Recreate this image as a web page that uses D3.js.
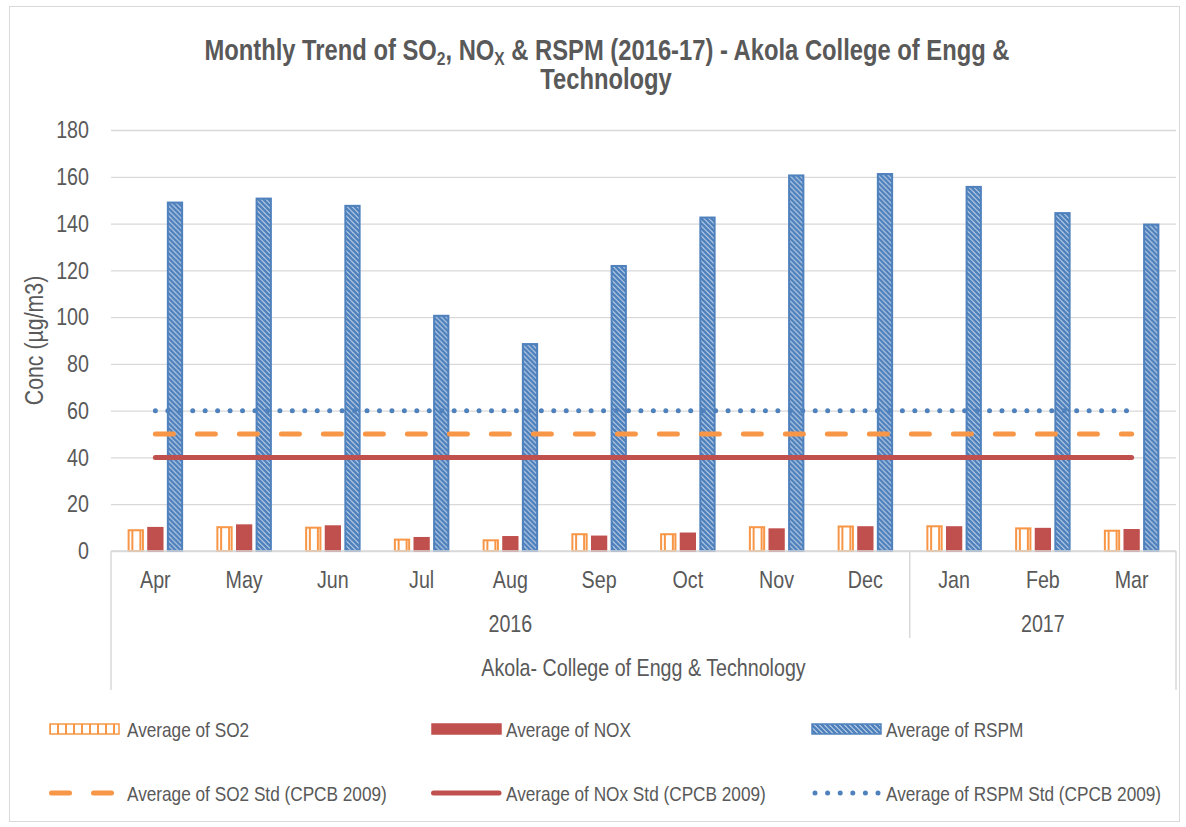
<!DOCTYPE html>
<html>
<head>
<meta charset="utf-8">
<script src="https://cdn.jsdelivr.net/npm/d3@7"></script>
<style>
  body { margin: 0; background: #fff; }
  text { font-family: "Liberation Sans Narrow", "Arial Narrow", "Liberation Sans", Arial, sans-serif; fill: #595959; }
</style>
</head>
<body>
<div id="chart"></div>
<script>
const width = 1186;
const height = 827;

// values
const months = ["Apr", "May", "Jun", "Jul", "Aug", "Sep", "Oct", "Nov", "Dec", "Jan", "Feb", "Mar"];
const yearLabels = ["2016", "2017"];
const yearMonths = [9, 3];
const siteLabel = "Akola- College of Engg & Technology";

const so2 = [9.3, 10.6, 10.4, 5.3, 5.0, 7.6, 7.6, 10.6, 10.9, 11.0, 10.1, 9.1];
const nox = [10.3, 11.4, 11.0, 6.0, 6.4, 6.6, 7.9, 9.7, 10.6, 10.6, 9.9, 9.4];
const rspm = [149.4, 151.1, 148.0, 101.0, 88.9, 122.3, 143.0, 161.0, 161.6, 156.1, 144.9, 140.0];

const so2Std = [50, 50, 50, 50, 50, 50, 50, 50, 50, 50, 50, 50];
const noxStd = [40, 40, 40, 40, 40, 40, 40, 40, 40, 40, 40, 40];
const rspmStd = [60, 60, 60, 60, 60, 60, 60, 60, 60, 60, 60, 60];

const yTicks = [0, 20, 40, 60, 80, 100, 120, 140, 160, 180];

const orange = "#F79646";
const red = "#C0504D";
const blue = "#4F81BD";
const grid = "#D9D9D9";

const svg = d3.select("#chart").append("svg")
    .attr("width", width)
    .attr("height", height);

// patterns for the hatched bars
const defs = svg.append("defs");
const vert = defs.append("pattern")
    .attr("id", "vert")
    .attr("patternUnits", "userSpaceOnUse")
    .attr("width", 8).attr("height", 8);
vert.append("rect").attr("width", 8).attr("height", 8).attr("fill", "#fff");
vert.append("rect").attr("x", 0).attr("width", 2).attr("height", 8).attr("fill", orange);

const diag = defs.append("pattern")
    .attr("id", "diag")
    .attr("patternUnits", "userSpaceOnUse")
    .attr("width", 5).attr("height", 5);
diag.append("rect").attr("width", 5).attr("height", 5).attr("fill", "#fff");
diag.append("path")
    .attr("d", "M-1,-1 L6,6 M-2,3 L2,7 M3,-2 L7,2")
    .attr("stroke", blue)
    .attr("stroke-width", 2.9);

// chart border
svg.append("rect")
    .attr("x", 9.5).attr("y", 6.5)
    .attr("width", 1170).attr("height", 815)
    .attr("fill", "none")
    .attr("stroke", grid);

const plot = { left: 111, right: 1176, top: 130, bottom: 551 };

const x = d3.scaleBand()
    .domain(months)
    .range([plot.left, plot.right])
    .padding(0);

const y = d3.scaleLinear()
    .domain([0, 180])
    .range([plot.bottom, plot.top]);

const series = ["so2", "nox", "rspm"];
const inner = d3.scaleBand()
    .domain(series)
    .range([-27.75, 27.75])
    .paddingInner(0.17);

// gridlines + y labels
const yAxis = d3.axisLeft(y)
    .tickValues(yTicks)
    .tickSize(-(plot.right - plot.left))
    .tickPadding(22);

const gy = svg.append("g")
    .attr("transform", `translate(${plot.left},0)`)
    .call(yAxis);
gy.select(".domain").remove();
gy.selectAll(".tick line").attr("stroke", grid).attr("stroke-width", 1.3);
gy.selectAll(".tick text")
    .attr("fill", "#595959")
    .style("font-size", "24px");

// y title
svg.append("text")
    .attr("transform", `translate(43,${(plot.top + plot.bottom) / 2}) rotate(-90)`)
    .attr("text-anchor", "middle")
    .style("font-size", "26px")
    .text("Conc (µg/m3)");

// bars
const barData = months.map((m, i) => ({ month: m, so2: so2[i], nox: nox[i], rspm: rspm[i] }));
const fills = { so2: "url(#vert)", nox: red, rspm: "url(#diag)" };
const strokes = { so2: orange, nox: red, rspm: blue };

const groups = svg.append("g").selectAll("g")
    .data(barData)
    .join("g")
    .attr("transform", d => `translate(${x(d.month) + x.bandwidth() / 2},0)`);

groups.selectAll("rect")
    .data(d => series.map(s => ({ key: s, value: d[s] })))
    .join("rect")
    .attr("x", d => inner(d.key) + 1)
    .attr("y", d => y(d.value) + 1)
    .attr("width", inner.bandwidth() - 2)
    .attr("height", d => y(0) - y(d.value) - 1)
    .attr("fill", d => fills[d.key])
    .attr("stroke", d => strokes[d.key])
    .attr("stroke-width", 2);

// standard lines
const line = d3.line()
    .x((d, i) => x(months[i]) + x.bandwidth() / 2)
    .y(d => y(d));

svg.append("path")
    .datum(noxStd)
    .attr("d", line)
    .attr("fill", "none")
    .attr("stroke", red)
    .attr("stroke-width", 5)
    .attr("stroke-linecap", "round");

svg.append("path")
    .datum(so2Std)
    .attr("d", line)
    .attr("fill", "none")
    .attr("stroke", orange)
    .attr("stroke-width", 5)
    .attr("stroke-linecap", "round")
    .attr("stroke-dasharray", "18 24");

svg.append("path")
    .datum(rspmStd)
    .attr("d", line)
    .attr("fill", "none")
    .attr("stroke", blue)
    .attr("stroke-width", 5)
    .attr("stroke-linecap", "round")
    .attr("stroke-dasharray", "0 12.45");

// category axis (three levels)
const axisG = svg.append("g");
axisG.append("line")
    .attr("x1", plot.left).attr("x2", plot.right)
    .attr("y1", plot.bottom).attr("y2", plot.bottom)
    .attr("stroke", grid).attr("stroke-width", 1.5);

let start = 0;
const yearBounds = yearMonths.map(n => {
    const b = { from: start, to: start + n };
    start += n;
    return b;
});

// vertical separators
[plot.left, plot.right].forEach(xx => {
    axisG.append("line")
        .attr("x1", xx).attr("x2", xx)
        .attr("y1", plot.bottom).attr("y2", 690)
        .attr("stroke", grid).attr("stroke-width", 1.5);
});
yearBounds.slice(1).forEach(b => {
    const xx = x(months[b.from]);
    axisG.append("line")
        .attr("x1", xx).attr("x2", xx)
        .attr("y1", plot.bottom).attr("y2", 638)
        .attr("stroke", grid).attr("stroke-width", 1.5);
});

axisG.selectAll("text.month")
    .data(months)
    .join("text")
    .attr("class", "month")
    .attr("x", d => x(d) + x.bandwidth() / 2)
    .attr("y", 588)
    .attr("text-anchor", "middle")
    .style("font-size", "24px")
    .text(d => d);

axisG.selectAll("text.year")
    .data(yearLabels)
    .join("text")
    .attr("class", "year")
    .attr("x", (d, i) => {
        const b = yearBounds[i];
        const x0 = x(months[b.from]);
        const x1 = x(months[b.to - 1]) + x.bandwidth();
        return (x0 + x1) / 2;
    })
    .attr("y", 632)
    .attr("text-anchor", "middle")
    .style("font-size", "24px")
    .text(d => d);

axisG.append("text")
    .attr("x", (plot.left + plot.right) / 2)
    .attr("y", 676)
    .attr("text-anchor", "middle")
    .style("font-size", "24px")
    .text(siteLabel);

// title
const title = svg.append("text")
    .attr("x", 607)
    .attr("y", 60)
    .attr("text-anchor", "middle")
    .style("font-size", "29px")
    .style("font-weight", "bold");
title.append("tspan").text("Monthly Trend of SO");
title.append("tspan").attr("dy", 5).style("font-size", "19px").text("2");
title.append("tspan").attr("dy", -5).text(", NO");
title.append("tspan").attr("dy", 5).style("font-size", "19px").text("X");
title.append("tspan").attr("dy", -5).text(" & RSPM (2016-17) - Akola College of Engg &");

svg.append("text")
    .attr("x", 606)
    .attr("y", 89)
    .attr("text-anchor", "middle")
    .style("font-size", "29px")
    .style("font-weight", "bold")
    .text("Technology");

// legend
const legendItems = [
    { label: "Average of SO2", type: "bar", fill: "url(#vert)", stroke: orange, col: 0, row: 0 },
    { label: "Average of NOX", type: "bar", fill: red, stroke: red, col: 1, row: 0 },
    { label: "Average of RSPM", type: "bar", fill: "url(#diag)", stroke: blue, col: 2, row: 0 },
    { label: "Average of SO2 Std (CPCB 2009)", type: "line", stroke: orange, dash: "18 24", col: 0, row: 1 },
    { label: "Average of NOx Std (CPCB 2009)", type: "line", stroke: red, dash: null, col: 1, row: 1 },
    { label: "Average of RSPM Std (CPCB 2009)", type: "line", stroke: blue, dash: "0 12.6", col: 2, row: 1 }
];
const colX = [49, 431, 811];
const rowY = [729, 793];

const leg = svg.append("g").selectAll("g")
    .data(legendItems)
    .join("g")
    .attr("transform", d => `translate(${colX[d.col]},${rowY[d.row]})`);

leg.filter(d => d.type === "bar").append("rect")
    .attr("x", 1).attr("y", -5)
    .attr("width", 69).attr("height", 10)
    .attr("fill", d => d.fill)
    .attr("stroke", d => d.stroke)
    .attr("stroke-width", 1.5);

leg.filter(d => d.type === "line").append("line")
    .attr("x1", d => d.col === 2 ? 4 : 2.5)
    .attr("x2", 68)
    .attr("y1", 0).attr("y2", 0)
    .attr("stroke", d => d.stroke)
    .attr("stroke-width", 5)
    .attr("stroke-linecap", "round")
    .attr("stroke-dasharray", d => d.dash);

leg.append("text")
    .attr("x", d => d.col === 0 ? 78 : 75)
    .attr("y", 7.5)
    .style("font-size", "21px")
    .text(d => d.label);

// no narrow font installed: squeeze every text horizontally around its anchor
const squeeze = 0.82;
svg.selectAll("text").each(function () {
    const t = d3.select(this);
    const tx = +t.attr("x") || 0;
    const prev = t.attr("transform") || "";
    t.attr("transform", `${prev} translate(${tx * (1 - squeeze)},0) scale(${squeeze},1)`);
});
</script>
</body>
</html>
